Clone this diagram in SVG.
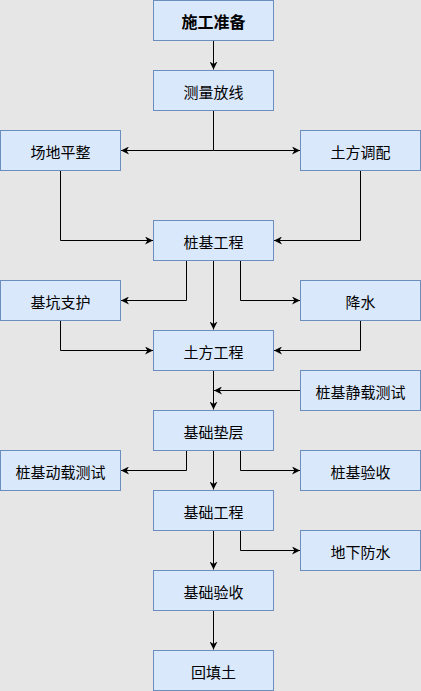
<svg xmlns="http://www.w3.org/2000/svg" width="421" height="691" viewBox="0 0 421 691">
<defs>
<marker id="arr" viewBox="0 0 10 10" refX="10" refY="5" markerWidth="8" markerHeight="8" markerUnits="userSpaceOnUse" orient="auto">
<path d="M0,0 L10,5 L0,10 L3,5 Z" fill="#000"/>
</marker>
<style>
.box{fill:#dae8fc;stroke:#6c8ebf;stroke-width:1}
.t{font-family:"Noto Sans CJK SC","Liberation Sans",sans-serif;font-size:15px;fill:#000;text-anchor:middle;dominant-baseline:central}
.b{font-weight:bold;font-size:16px}
.c{fill:none;stroke:#000;stroke-width:1}
.a{marker-end:url(#arr)}
</style>
</defs>
<rect width="421" height="691" fill="#e6e6e6"/>
<g id="connectors">
<path class="c a" d="M213.5,40.5 V69.5"/>
<path class="c" d="M213.5,110.5 V150.5"/>
<path class="c a" d="M213.5,150.5 H121"/>
<path class="c a" d="M213.5,150.5 H300"/>
<path class="c a" d="M60.5,170.5 V240.5 H153"/>
<path class="c a" d="M360.5,170.5 V240.5 H274"/>
<path class="c a" d="M186.5,260.5 V300.5 H121"/>
<path class="c a" d="M213.5,260.5 V329.5"/>
<path class="c a" d="M240.5,260.5 V300.5 H300"/>
<path class="c a" d="M60.5,320.5 V350.5 H153"/>
<path class="c a" d="M360.5,320.5 V350.5 H274"/>
<path class="c a" d="M213.5,370.5 V409.5"/>
<path class="c a" d="M300.5,390.5 H214"/>
<path class="c a" d="M186.5,450.5 V470.5 H121"/>
<path class="c a" d="M213.5,450.5 V489.5"/>
<path class="c a" d="M240.5,450.5 V470.5 H300"/>
<path class="c a" d="M213.5,530.5 V569.5"/>
<path class="c a" d="M240.5,530.5 V550.5 H300"/>
<path class="c a" d="M213.5,610.5 V649.5"/>
</g>
<g id="n1"><rect class="box" x="153.5" y="0.5" width="120" height="40"/><text class="t b" x="213.5" y="21">施工准备</text></g>
<g id="n2"><rect class="box" x="153.5" y="70.5" width="120" height="40"/><text class="t" x="213.5" y="91">测量放线</text></g>
<g id="n3"><rect class="box" x="0.5" y="130.5" width="120" height="40"/><text class="t" x="60.5" y="151">场地平整</text></g>
<g id="n4"><rect class="box" x="300.5" y="130.5" width="120" height="40"/><text class="t" x="360.5" y="151">土方调配</text></g>
<g id="n5"><rect class="box" x="153.5" y="220.5" width="120" height="40"/><text class="t" x="213.5" y="241">桩基工程</text></g>
<g id="n6"><rect class="box" x="0.5" y="280.5" width="120" height="40"/><text class="t" x="60.5" y="301">基坑支护</text></g>
<g id="n7"><rect class="box" x="300.5" y="280.5" width="120" height="40"/><text class="t" x="360.5" y="301">降水</text></g>
<g id="n8"><rect class="box" x="153.5" y="330.5" width="120" height="40"/><text class="t" x="213.5" y="351">土方工程</text></g>
<g id="n9"><rect class="box" x="300.5" y="370.5" width="120" height="40"/><text class="t" x="360.5" y="391">桩基静载测试</text></g>
<g id="n10"><rect class="box" x="153.5" y="410.5" width="120" height="40"/><text class="t" x="213.5" y="431">基础垫层</text></g>
<g id="n11"><rect class="box" x="0.5" y="450.5" width="120" height="40"/><text class="t" x="60.5" y="471">桩基动载测试</text></g>
<g id="n12"><rect class="box" x="300.5" y="450.5" width="120" height="40"/><text class="t" x="360.5" y="471">桩基验收</text></g>
<g id="n13"><rect class="box" x="153.5" y="490.5" width="120" height="40"/><text class="t" x="213.5" y="511">基础工程</text></g>
<g id="n14"><rect class="box" x="300.5" y="530.5" width="120" height="40"/><text class="t" x="360.5" y="551">地下防水</text></g>
<g id="n15"><rect class="box" x="153.5" y="570.5" width="120" height="40"/><text class="t" x="213.5" y="591">基础验收</text></g>
<g id="n16"><rect class="box" x="153.5" y="650.5" width="120" height="40"/><text class="t" x="213.5" y="671">回填土</text></g>
</svg>
